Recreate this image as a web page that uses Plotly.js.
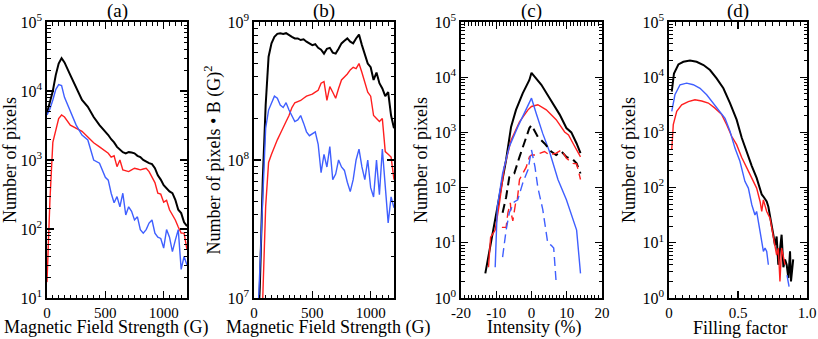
<!DOCTYPE html>
<html>
<head>
<meta charset="utf-8">
<script src="https://cdn.plot.ly/plotly-3.0.1.min.js"></script>
<style>html,body{margin:0;padding:0;background:#fff}#plot{width:818px;height:339px}</style>
</head>
<body>
<div id="plot"></div>
<script>
// (a) number of pixels vs field strength
var bA = [0, 25, 50, 75, 100, 125, 150, 200, 250, 300, 350, 400, 450, 500, 525, 550, 575, 600, 625, 650, 675, 700, 725, 750, 775, 800, 825, 850, 875, 900, 925, 950, 975, 1000, 1025, 1050, 1075, 1100, 1125, 1150, 1175, 1200];
var aBlack = [4800, 7000, 10000, 17000, 25000, 30000, 26000, 17000, 11000, 7400, 5900, 4200, 3200, 2600, 2300, 2000, 1800, 1550, 1400, 1300, 1250, 1300, 1280, 1250, 1150, 1100, 1000, 940, 900, 870, 760, 600, 520, 430, 390, 350, 330, 265, 190, 170, 125, 110];
var aBlue = [4500, 5500, 7400, 10500, 12400, 12000, 8100, 5000, 3200, 2300, 1950, 1000, 900, 560, 510, 330, 240, 295, 210, 330, 160, 210, 180, 135, 150, 98, 87, 98, 122, 135, 87, 76, 73, 53, 98, 76, 47, 69, 98, 26, 40, 30];
var aRed = [17, 260, 1800, 2700, 4000, 4500, 4200, 3200, 2900, 2600, 2150, 1780, 1550, 1320, 1250, 1100, 1150, 800, 1000, 720, 700, 680, 720, 760, 740, 720, 740, 760, 680, 560, 470, 330, 320, 245, 260, 190, 160, 135, 107, 87, 87, 50];

// (b) number of pixels * B^2
var bB = [25, 50, 75, 100, 125, 150, 175, 200, 225, 250, 275, 300, 325, 350, 375, 400, 425, 450, 475, 500, 525, 550, 575, 600, 625, 650, 675, 700, 725, 750, 775, 800, 825, 850, 875, 900, 925, 950, 975, 1000, 1025, 1050, 1075, 1100, 1125, 1150, 1175, 1200];
var bBlack = [4e6, 1.2e7, 7.2e7, 2.5e8, 5.6e8, 7.0e8, 7.8e8, 8.2e8, 8.3e8, 8.2e8, 8.3e8, 8.1e8, 7.8e8, 7.6e8, 7.6e8, 7.4e8, 7.5e8, 7.2e8, 7.0e8, 6.8e8, 6.9e8, 6.5e8, 6.3e8, 5.9e8, 6.4e8, 6.5e8, 6.0e8, 5.9e8, 6.4e8, 7.0e8, 7.3e8, 7.6e8, 7.2e8, 7.0e8, 7.6e8, 8.1e8, 6.8e8, 5.8e8, 5.0e8, 4.7e8, 3.8e8, 4.3e8, 3.6e8, 3.3e8, 2.9e8, 3.1e8, 2.1e8, 1.7e8];
var bRed = [2e6, 5e6, 1.0e7, 4.6e7, 9.6e7, 1.1e8, 1.25e8, 1.4e8, 1.55e8, 1.74e8, 1.9e8, 2.1e8, 2.4e8, 2.6e8, 2.65e8, 2.7e8, 2.8e8, 2.9e8, 2.95e8, 3.0e8, 3.1e8, 3.2e8, 3.6e8, 3.7e8, 2.7e8, 3.4e8, 3.1e8, 2.8e8, 3.3e8, 3.8e8, 4.0e8, 4.2e8, 4.5e8, 4.7e8, 4.6e8, 5.0e8, 4.3e8, 3.6e8, 3.1e8, 2.9e8, 2.1e8, 2.0e8, 1.9e8, 2.0e8, 1.15e8, 1.1e8, 1.05e8, 7.2e7];
var bBlue = [5e6, 1.7e7, 6.8e7, 1.7e8, 2.3e8, 2.6e8, 2.9e8, 2.8e8, 2.5e8, 2.4e8, 2.6e8, 2.3e8, 2.1e8, 1.9e8, 1.95e8, 2.1e8, 1.85e8, 1.6e8, 1.5e8, 1.55e8, 1.6e8, 1.3e8, 8.1e7, 1.1e8, 8.9e7, 1.25e8, 7.2e7, 7.9e7, 1.0e8, 8.9e7, 8.4e7, 6.9e7, 5.9e7, 7.2e7, 1.0e8, 1.2e8, 8.9e7, 7.2e7, 1.0e8, 6.3e7, 5.4e7, 1.0e8, 5.6e7, 1.2e8, 6.3e7, 3.5e7, 5.4e7, 4.5e7];

// (c) intensity histograms (solid and dashed)
var cBlackX = [-13.1, -11, -9.1, -7.2, -5.8, -4.4, -2.5, -0.6, 0, 2.8, 5.1, 8, 9.9, 10.5, 11.3, 12.8, 13.9];
var cBlack = [2.8, 15, 67, 320, 1260, 2560, 5100, 8900, 12000, 7300, 4200, 2100, 1200, 1100, 1000, 630, 420];
var cRedX = [-12.2, -11.6, -10.3, -9.1, -7.7, -5.8, -3.4, -1, 0, 1.8, 4.2, 7, 9.4, 10.5, 11.8, 13.9];
var cRed = [3.6, 12.6, 17, 52, 235, 720, 1550, 2560, 2950, 3170, 2560, 1700, 1020, 900, 630, 360];
var cBlueX = [-10.3, -9.7, -8.2, -6.3, -3.9, -2, -0.5, 0, 1.3, 3.2, 5.1, 7.5, 9.9, 11.8, 12.8, 13.9];
var cBlue = [3.6, 45, 180, 550, 1260, 2250, 3400, 4170, 2250, 950, 450, 140, 60, 25, 17, 2.8];
var cBlackDX = [-8.2, -7.2, -6.3, -4.9, -3.4, -2, -0.6, 0, 1.8, 3.7, 5.6, 7, 8.5, 9.9, 11.8, 12.8, 13.9];
var cBlackD = [35, 67, 155, 180, 360, 630, 1200, 1350, 830, 630, 450, 390, 450, 360, 320, 275, 180];
var cRedDX = [-8.4, -7.2, -6.7, -6, -5.8, -5.3, -4.5, -4.1, -3.4, -2.5, -1.5, -0.6, 0, 1, 2.4, 3.7, 5.1, 7, 8.5, 9.9, 11.8, 12.8, 13.9];
var cRedD = [19, 19, 35, 53, 35, 25, 53, 55, 140, 180, 235, 360, 390, 390, 420, 450, 390, 420, 480, 340, 275, 270, 140];
var cBlueDX = [-8.2, -7.2, -6.3, -4.9, -3.9, -2.5, -1, 0, 1, 1.8, 3.2, 4.6, 5.6, 6.3, 7];
var cBlueD = [5.5, 17, 35, 55, 60, 120, 210, 480, 235, 100, 40, 10, 9, 8, 1.9];

// (d) filling factor
var dBlackX = [0.02, 0.036, 0.068, 0.104, 0.152, 0.2, 0.25, 0.297, 0.345, 0.394, 0.442, 0.49, 0.527, 0.563, 0.6, 0.635, 0.66, 0.672, 0.684, 0.696, 0.708, 0.72, 0.732, 0.744, 0.756, 0.768, 0.78, 0.792, 0.804, 0.816, 0.829, 0.841, 0.853, 0.865, 0.877, 0.884, 0.9];
var dBlack = [5500, 11700, 17000, 19000, 20000, 19000, 16600, 13500, 9500, 6300, 3400, 1700, 800, 430, 245, 150, 98, 75, 69, 60, 56, 45, 32, 20, 14, 9, 13, 4, 8, 14, 3.6, 5, 4, 2.3, 7, 2, 5];
var dBlueX = [0.02, 0.043, 0.08, 0.128, 0.176, 0.225, 0.273, 0.321, 0.37, 0.406, 0.442, 0.478, 0.514, 0.55, 0.575, 0.6, 0.623, 0.635, 0.66, 0.684, 0.696, 0.708, 0.72, 0.79, 0.855, 0.865, 0.87];
var dBlue = [2400, 4800, 7300, 7800, 7300, 6300, 4800, 3400, 2400, 1800, 1050, 520, 300, 130, 98, 49, 32, 37, 16, 7, 8, 7, 4, null, 2.6, 2, 1.6];
var dRedX = [0.02, 0.031, 0.056, 0.092, 0.14, 0.188, 0.237, 0.285, 0.333, 0.382, 0.418, 0.454, 0.49, 0.527, 0.563, 0.6, 0.635, 0.66, 0.672, 0.684, 0.708, 0.732, 0.756, 0.768, 0.78, 0.792, 0.804, 0.816, 0.829, 0.841];
var dRed = [490, 1380, 2400, 3160, 3600, 3900, 3700, 3400, 2750, 2100, 1380, 850, 600, 350, 230, 150, 98, 56, 37, 60, 37, 28, 14, 9, 6, 8, 2, 8, 5.4, 4];

var panelLetters = ['(a)', '(b)', '(c)', '(d)'];
var xTitles = ['Magnetic Field Strength (G)', 'Magnetic Field Strength (G)', 'Intensity (%)', 'Filling factor'];
var yTitles = ['Number of pixels', 'Number of pixels \u2022 B (G)<sup>2</sup>', 'Number of pixels', 'Number of pixels'];

var BLACK = '#000000', RED = '#ff1f1f', BLUE = '#3f5fff';
var FONT = 'Liberation Serif';

function tr(x, y, color, ax, dash, w) {
  return { x: x, y: y, type: 'scatter', mode: 'lines', xaxis: 'x' + ax, yaxis: 'y' + ax,
    connectgaps: false, showlegend: false, hoverinfo: 'skip',
    line: { color: color, width: w || 1.4, dash: dash || 'solid' } };
}

var data = [
  tr(bA, aBlack, BLACK, '', null, 2), tr(bA, aRed, RED, ''), tr(bA, aBlue, BLUE, ''),
  tr(bB, bBlack, BLACK, '2', null, 2), tr(bB, bRed, RED, '2'), tr(bB, bBlue, BLUE, '2'),
  tr(cBlackX, cBlack, BLACK, '3', null, 2), tr(cRedX, cRed, RED, '3'), tr(cBlueX, cBlue, BLUE, '3'),
  tr(cBlackDX, cBlackD, BLACK, '3', '9px,5px', 2), tr(cRedDX, cRedD, RED, '3', '9px,5px'), tr(cBlueDX, cBlueD, BLUE, '3', '9px,5px'),
  tr(dBlackX, dBlack, BLACK, '4', null, 2), tr(dRedX, dRed, RED, '4'), tr(dBlueX, dBlue, BLUE, '4')
];

// plot boxes in pixels
var W = 818, H = 339;
var boxes = [[47, 187], [254, 394], [461, 602], [669, 807]];
var xTitleCenters = [106, 328, 534, 740];
var yTop = 22, yBot = 298;
var xRanges = [[0, 1200], [0, 1200], [-20, 20], [0, 1]];
var xTicks = [[0, 500, 1000], [0, 500, 1000], [-20, -10, 0, 10, 20], [0, 0.5, 1]];
var xTickText = [['0', '500', '1000'], ['0', '500', '1000'], ['-20', '-10', '0', '10', '20'], ['0', '0.5', '1.0']];
var xMinor = [50, 50, 1, 0.05];
var yDecades = [[1, 5], [7, 9], [0, 5], [0, 5]];

function logMinor(lo, hi) {
  var v = [];
  for (var p = lo; p < hi; p++) for (var k = 2; k <= 9; k++) v.push(k * Math.pow(10, p));
  return v;
}

var layout = {
  width: W, height: H,
  margin: { l: 0, r: 0, t: 0, b: 0 },
  paper_bgcolor: '#fff', plot_bgcolor: '#fff',
  font: { family: FONT, color: '#000', size: 16 },
  annotations: []
};

for (var i = 0; i < 4; i++) {
  var s = i === 0 ? '' : String(i + 1);
  var lo = yDecades[i][0], hi = yDecades[i][1];
  var yv = [], yt = [];
  for (var p = lo; p <= hi; p++) { yv.push(Math.pow(10, p)); yt.push('10<sup>' + p + '</sup>'); }
  layout['xaxis' + s] = {
    domain: [boxes[i][0] / W, boxes[i][1] / W], anchor: 'y' + s, range: xRanges[i],
    tickmode: 'array', tickvals: xTicks[i], ticktext: xTickText[i],
    ticks: 'inside', ticklen: 7, tickwidth: 1.3, tickcolor: '#000',
    minor: { dtick: xMinor[i], ticks: 'inside', ticklen: 3.5, tickwidth: 1, tickcolor: '#000' },
    showline: true, linecolor: '#000', linewidth: 1.8, mirror: 'allticks',
    showgrid: false, zeroline: false, tickfont: { family: FONT, size: 15 }
  };
  layout['yaxis' + s] = {
    domain: [1 - yBot / H, 1 - yTop / H], anchor: 'x' + s, type: 'log', range: [lo, hi],
    tickmode: 'array', tickvals: yv, ticktext: yt,
    ticks: 'inside', ticklen: 7, tickwidth: 1.3, tickcolor: '#000',
    minor: { tickmode: 'array', tickvals: logMinor(lo, hi), ticks: 'inside', ticklen: 3.5, tickwidth: 1, tickcolor: '#000' },
    showline: true, linecolor: '#000', linewidth: 1.8, mirror: 'allticks',
    showgrid: false, zeroline: false, tickfont: { family: FONT, size: 16 },
    title: { text: yTitles[i], font: { family: FONT, size: 18 }, standoff: 2 }
  };
  layout.annotations.push({
    text: panelLetters[i], xref: 'x' + s + ' domain', yref: 'paper', x: 0.5, y: 1 - 11 / H,
    xanchor: 'center', yanchor: 'middle', showarrow: false, font: { family: FONT, size: 19 }
  });
  // x axis title, sitting on the bottom edge under each panel
  layout.annotations.push({
    text: xTitles[i], xref: 'paper', yref: 'paper', x: xTitleCenters[i] / W, y: 0,
    xanchor: 'center', yanchor: 'bottom', showarrow: false, borderpad: 0,
    font: { family: FONT, size: 18 }
  });
}

Plotly.newPlot('plot', data, layout, { staticPlot: true });
</script>
</body>
</html>
